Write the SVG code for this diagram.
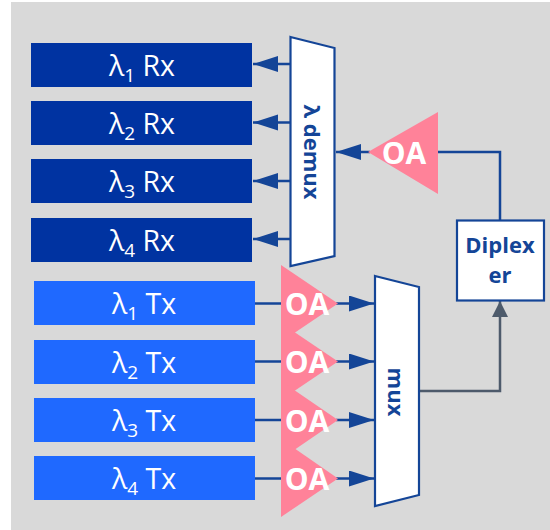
<svg xmlns="http://www.w3.org/2000/svg" width="550" height="530" viewBox="0 0 550 530">
<style>
text{font-family:"Open Sans","Noto Sans","Liberation Sans",sans-serif;text-anchor:middle}
.rx{fill:#0033a1}.tx{fill:#1f69ff}
.lbl{fill:#fff;font-size:28.500px}
.sub{font-size:19px}
.oa{fill:#ff8299}
.oat{fill:#fff;font-size:30px;font-weight:700}
.box{fill:#fff;stroke:#144597;stroke-width:2.200}
.bt{fill:#144597;font-weight:700;font-size:22px}
.c{fill:none;stroke:#144597;stroke-width:2.500}
.g{fill:none;stroke:#4d5a6b;stroke-width:2.500}
</style>
<defs>
<marker id="ab" markerUnits="userSpaceOnUse" markerWidth="26" markerHeight="18" refX="25" refY="8" orient="auto"><path d="M0 0L25 8L0 16Z" fill="#144597"/></marker>
<marker id="ag" markerUnits="userSpaceOnUse" markerWidth="26" markerHeight="18" refX="16" refY="8" orient="auto"><path d="M0 0L16 8L0 16Z" fill="#4d5a6b"/></marker>
</defs>
<rect x="11" y="2" width="539" height="528" fill="#d9d9d9"/>
<g id="connectors">
<path class="c" marker-end="url(#ab)" d="M291 64H253"/>
<path class="c" marker-end="url(#ab)" d="M291 122.500H253"/>
<path class="c" marker-end="url(#ab)" d="M291 181H253"/>
<path class="c" marker-end="url(#ab)" d="M291 239H253"/>
<path class="c" marker-end="url(#ab)" d="M370 152H336"/>
<path class="c" d="M438 152H500V220"/>
<path class="c" d="M255 303.500H283"/><path class="c" d="M255 361.500H283"/><path class="c" d="M255 420H283"/><path class="c" d="M255 478.500H283"/>
<path class="c" marker-end="url(#ab)" d="M336 303.500H374"/>
<path class="c" marker-end="url(#ab)" d="M336 361.500H374"/>
<path class="c" marker-end="url(#ab)" d="M336 420H374"/>
<path class="c" marker-end="url(#ab)" d="M336 478.500H374"/>
<path class="g" marker-end="url(#ag)" d="M419 391H500V301"/>
</g>
<g id="rx1"><rect class="rx" x="31" y="43" width="221" height="44"/><text class="lbl" x="142" y="76">λ<tspan class="sub" dy="6">1</tspan><tspan dy="-6"> Rx</tspan></text></g>
<g id="rx2"><rect class="rx" x="31" y="101" width="221" height="44"/><text class="lbl" x="142" y="134">λ<tspan class="sub" dy="6">2</tspan><tspan dy="-6"> Rx</tspan></text></g>
<g id="rx3"><rect class="rx" x="31" y="159" width="221" height="44"/><text class="lbl" x="142" y="192">λ<tspan class="sub" dy="6">3</tspan><tspan dy="-6"> Rx</tspan></text></g>
<g id="rx4"><rect class="rx" x="31" y="218" width="221" height="44"/><text class="lbl" x="142" y="251">λ<tspan class="sub" dy="6">4</tspan><tspan dy="-6"> Rx</tspan></text></g>
<g id="tx1"><rect class="tx" x="34" y="281" width="221" height="44"/><text class="lbl" x="144" y="314">λ<tspan class="sub" dy="6">1</tspan><tspan dy="-6"> Tx</tspan></text></g>
<g id="tx2"><rect class="tx" x="34" y="340" width="221" height="44"/><text class="lbl" x="144" y="373">λ<tspan class="sub" dy="6">2</tspan><tspan dy="-6"> Tx</tspan></text></g>
<g id="tx3"><rect class="tx" x="34" y="398" width="221" height="44"/><text class="lbl" x="144" y="431">λ<tspan class="sub" dy="6">3</tspan><tspan dy="-6"> Tx</tspan></text></g>
<g id="tx4"><rect class="tx" x="34" y="456" width="221" height="44"/><text class="lbl" x="144" y="489">λ<tspan class="sub" dy="6">4</tspan><tspan dy="-6"> Tx</tspan></text></g>
<g id="demux"><path class="box" d="M290.500 37L334.500 48V256L290.500 266Z"/><text class="bt" transform="translate(304 152) rotate(90)">λ demux</text></g>
<g id="mux"><path class="box" d="M375 276L419 287V495L375 506Z"/><text class="bt" transform="translate(388 392) rotate(90)">mux</text></g>
<g id="oa-rx"><path class="oa" d="M368 152L438 112V194Z"/><text class="oat" x="404" y="164">OA</text></g>
<g id="oa1"><path class="oa" d="M281 265L338 303.500L281 342Z"/><text class="oat" x="307" y="315">OA</text></g>
<g id="oa2"><path class="oa" d="M281 323L338 361.500L281 400Z"/><text class="oat" x="307" y="373">OA</text></g>
<g id="oa3"><path class="oa" d="M281 381L338 420L281 459Z"/><text class="oat" x="307" y="432">OA</text></g>
<g id="oa4"><path class="oa" d="M281 439L338 478.500L281 517Z"/><text class="oat" x="307" y="490">OA</text></g>
<g id="diplexer"><rect class="box" x="457" y="220.500" width="87" height="80"/><text class="bt" x="500" y="253">Diplex</text><text class="bt" x="500" y="283">er</text></g>
</svg>
